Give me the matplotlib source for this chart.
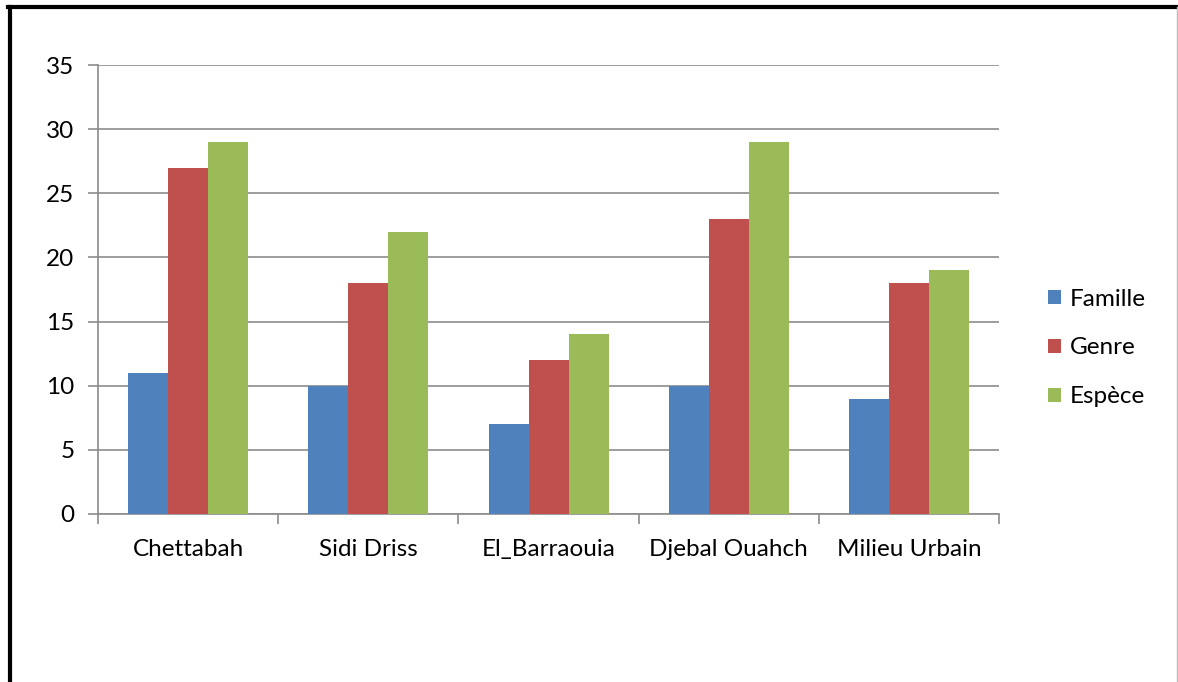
import numpy as np
import matplotlib.pyplot as plt
from matplotlib.lines import Line2D

sites = ["Chettabah", "Sidi Driss", "El_Barraouia", "Djebal Ouahch", "Milieu Urbain"]
famille = [11, 10, 7, 10, 9]
genre = [27, 18, 12, 23, 18]
espece = [29, 22, 14, 29, 19]
series = ["Famille", "Genre", "Espèce"]
colors = ["#4F81BD", "#C0504D", "#9BBB59"]

plt.rcParams['font.family'] = ['Lato', 'DejaVu Sans']

fig = plt.figure(figsize=(11.78, 6.82), dpi=100)
ax = fig.add_axes([98/1178, 1-514/682, (999-98)/1178, (514-65)/682])

x = np.arange(len(sites))
w = 40/180.2
for k, (vals, name, c) in enumerate(zip([famille, genre, espece], series, colors)):
    ax.bar(x + (k-1)*w, vals, w, color=c, label=name, zorder=3)

ax.set_xlim(-0.5, len(sites)-0.5)
ax.set_ylim(0, 35)
ax.set_yticks(range(0, 36, 5))
ax.set_xticks(x)
ax.set_xticklabels(sites)
ax.set_xticks(np.arange(-0.5, len(sites), 1), minor=True)
ax.tick_params(axis='x', which='major', length=0, pad=18, labelsize=17.5)
ax.tick_params(axis='x', which='minor', length=7, color='#8c8c8c', width=1.2, direction='out')
ax.tick_params(axis='y', length=7, color='#8c8c8c', width=1.2, labelsize=17.5, pad=10)
ax.grid(axis='y', color='#8c8c8c', linewidth=1.2, zorder=0)
for s in ['top', 'right']:
    ax.spines[s].set_visible(False)
for s in ['left', 'bottom']:
    ax.spines[s].set_color('#8c8c8c')
    ax.spines[s].set_linewidth(1.2)

leg = fig.legend(loc='center left', bbox_to_anchor=(1026/1178, 1-348/682), frameon=False,
                 fontsize=17.5, handlelength=0.55, handleheight=0.55, labelspacing=1.15,
                 handletextpad=0.35)

# outer frame
fig.add_artist(Line2D([9.5/1178, 9.5/1178], [0, 1-7/682], color='black', linewidth=3))
fig.add_artist(Line2D([8/1178, 1177/1178], [1-7/682, 1-7/682], color='black', linewidth=3))
fig.add_artist(Line2D([1176.5/1178, 1176.5/1178], [0, 1-7/682], color='#bbbbbb', linewidth=1))

fig.savefig("out.png", dpi=100)
